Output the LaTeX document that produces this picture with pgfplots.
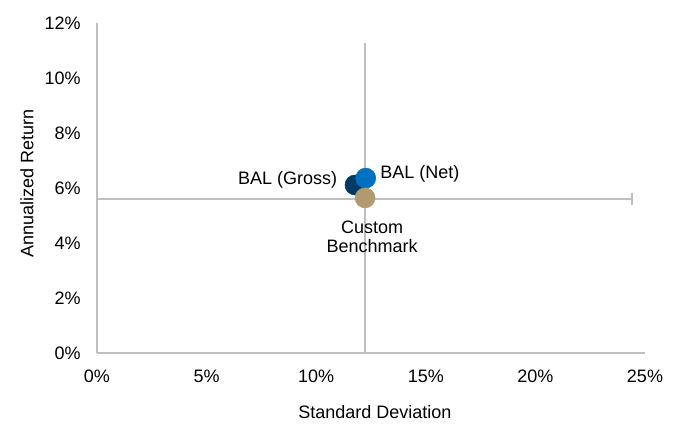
\documentclass[border=0pt]{standalone}
\usepackage{pgfplots}
\pgfplotsset{compat=1.18}
\usepackage{fontspec}
\setmainfont{Liberation Sans}
\definecolor{netblue}{HTML}{0070C0}
\definecolor{grossnavy}{HTML}{003B66}
\definecolor{benchtan}{HTML}{B09B71}
\definecolor{linegray}{HTML}{BFBFBF}
\begin{document}
\begin{tikzpicture}
\fontsize{13.5}{16}\selectfont
\path[use as bounding box] (-72.75pt,-54.75pt) rectangle (435.75pt,264.75pt);
\begin{axis}[
  at={(0,0)}, anchor=south west,
  scale only axis,
  width=411pt, height=247.5pt,
  xmin=0, xmax=25, ymin=0, ymax=12,
  xtick={0,5,10,15,20,25}, ytick={0,2,4,6,8,10,12},
  xticklabel={\pgfmathprintnumber{\tick}\%},
  yticklabel={\pgfmathprintnumber{\tick}\%},
  /pgf/number format/assume math mode=true,
  axis lines*=left,
  axis line style={linegray, line width=1.5pt},
  major tick length=0pt,
  tick style={draw=none},
  yticklabel style={anchor=east, inner sep=0pt, xshift=-12pt, font=\fontsize{13.5}{16}\selectfont},
  xticklabel style={anchor=north, inner sep=0pt, yshift=-12.5pt, font=\fontsize{13.5}{16}\selectfont},
  xlabel={Standard Deviation},
  ylabel={Annualized Return},
  xlabel style={at={(rel axis cs:0.507,0)}, anchor=center, yshift=-44.25pt, font=\fontsize{13.5}{16}\selectfont},
  ylabel style={at={(rel axis cs:0,0.515)}, anchor=center, yshift=52.5pt, font=\fontsize{13.5}{16}\selectfont},
  clip=false,
]
% crosshair lines (error bars of the benchmark)
\addplot[linegray, line width=1.5pt] coordinates {(12.23,0) (12.23,11.26)};
\addplot[linegray, line width=1.5pt] coordinates {(0,5.6) (24.41,5.6)};
\addplot[linegray, line width=1.5pt] coordinates {(24.41,5.38) (24.41,5.82)};
% points
\addplot[only marks, mark=*, mark size=7.5pt, color=grossnavy] coordinates {(11.77,6.11)};
\addplot[only marks, mark=*, mark size=7.5pt, color=netblue] coordinates {(12.26,6.36)};
\addplot[only marks, mark=*, mark size=7.5pt, color=benchtan] coordinates {(12.23,5.64)};
% labels
\node[anchor=base east, inner sep=0pt] at (axis cs:10.97,6.11) {BAL (Gross)};
\node[anchor=base west, inner sep=0pt] at (axis cs:12.91,6.36) {BAL (Net)};
\node[anchor=base, inner sep=0pt] at (axis cs:12.55,4.36) {Custom};
\node[anchor=base, inner sep=0pt] at (axis cs:12.55,3.64) {Benchmark};
\end{axis}
\end{tikzpicture}
\end{document}
